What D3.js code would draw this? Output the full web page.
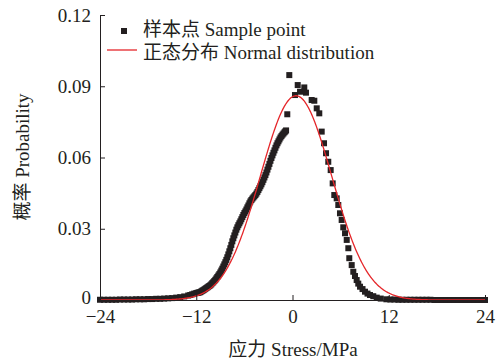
<!DOCTYPE html>
<html><head><meta charset="utf-8">
<script src="https://cdn.jsdelivr.net/npm/d3@7"></script>
<style>body{margin:0;background:#fff}svg{display:block}</style>
</head><body>
<script>
// ---- data ----
const xTicks = [-24, -12, 0, 12, 24];
const yTicks = [0, 0.03, 0.06, 0.09, 0.12];
const sampleX = [
 -24,-23.5,-23,-22.5,-22,-21.5,-21,-20.5,-20,-19.5,-19,-18.5,-18,-17.5,-17,-16.5,-16,-15.5,-15,-14.5,-14,-13.5,
 -13,-12.75,-12.5,-12.25,
 -12,-11.875,-11.75,-11.625,-11.5,-11.375,-11.25,-11.125,-11,-10.875,-10.75,-10.625,-10.5,-10.375,-10.25,-10.125,
 -10,-9.875,-9.75,-9.625,-9.5,-9.375,-9.25,-9.125,-9,-8.875,-8.75,-8.625,-8.5,-8.375,-8.25,-8.125,
 -8,-7.875,-7.75,-7.625,-7.5,-7.375,-7.25,-7.125,-7,-6.875,-6.75,-6.625,-6.5,-6.375,-6.25,-6.125,
 -6,-5.875,-5.75,-5.625,-5.5,-5.375,-5.25,-5.125,-5,-4.875,-4.75,-4.625,-4.5,-4.375,-4.25,-4.125,
 -4,-3.875,-3.75,-3.625,-3.5,-3.375,-3.25,-3.125,-3,-2.875,-2.75,-2.625,-2.5,-2.375,-2.25,-2.125,
 -2,-1.875,-1.75,-1.625,-1.5,-1.375,-1.25,-1.125,-1,-0.9,-0.8,
 -0.65,-0.4,0.31,0.65,0.94,1.47,1.68,2.39,2.72,3.02,3.34,3.64,3.93,4.18,
 4.46,4.76,5.01,5.21,5.51,5.71,5.92,6.13,6.33,6.55,6.76,6.96,7.08,7.38,7.58,7.79,8.0,8.2,8.42,8.73,9.04,9.35,9.66,
 10.07,10.5,11.0,11.7,12.2,12.7,13.2,13.7,14.2,14.7,15.2,15.7,16.2,16.7,17.2,17.7,18.2,18.7,19.2,19.7,20.2,20.7,
 21.2,21.7,22.2,22.7,23.2,23.7,24
];
const sampleY = [
 0.0001,0.0001,0.0001,0.0001,0.0001,0.0002,0.0002,0.0002,0.0002,0.0003,0.0003,0.0003,0.0004,0.0004,0.0005,0.0005,0.0006,0.0007,0.0008,0.0010,0.0012,0.0015,
 0.0019,0.0021,0.0024,0.0027,
 0.0029,0.0030,0.0031,0.0032,0.0033,0.0036,0.0039,0.0041,0.0044,0.0047,0.0050,0.0053,0.0056,0.0059,0.0062,0.0066,
 0.0071,0.0075,0.0080,0.0085,0.0091,0.0097,0.0103,0.0109,0.0116,0.0124,0.0132,0.0141,0.0150,0.0159,0.0169,0.0180,
 0.0192,0.0205,0.0218,0.0232,0.0247,0.0260,0.0272,0.0284,0.0296,0.0306,0.0315,0.0323,0.0331,0.0340,0.0349,0.0358,
 0.0366,0.0373,0.0381,0.0390,0.0398,0.0407,0.0415,0.0421,0.0427,0.0432,0.0437,0.0442,0.0448,0.0455,0.0463,0.0471,
 0.0479,0.0487,0.0496,0.0506,0.0516,0.0526,0.0537,0.0549,0.0561,0.0573,0.0586,0.0598,0.0609,0.0620,0.0630,0.0641,
 0.0651,0.0660,0.0668,0.0676,0.0684,0.0690,0.0696,0.0701,0.0706,0.0710,0.0714,
 0.0782,0.0947,0.0863,0.0905,0.0877,0.0895,0.0873,0.0842,0.0839,0.0807,0.0786,0.0709,0.0660,0.0618,
 0.0582,0.0547,0.0491,0.0442,0.0428,0.0400,0.0365,0.0337,0.0306,0.0281,0.0253,0.0218,0.0176,0.0147,0.0119,0.0101,0.0084,0.0069,0.0056,0.0046,0.0035,0.0027,0.0021,
 0.0016,0.0010,0.0006,0.0003,0.0002,0.0002,0.0001,0.0001,0.0001,0.0001,0.0001,0.0001,0.0001,0.0001,0.0001,0,0,0,0,0,0,0,
 0,0,0,0,0,0,0
];
// fitted normal distribution parameters
const normalMean = 0.44;
const normalSigma = 4.45;
const normalPeak = 0.086;
const legendLabels = ["样本点 Sample point", "正态分布 Normal distribution"];
const xLabel = "应力 Stress/MPa";
const yLabel = "概率 Probability";

// ---- chart ----
const W = 504, H = 360;
const ink = "#231f20", red = "#e5262a";
const font = "'Liberation Serif','Times New Roman','Noto Sans CJK SC',serif";
const svg = d3.select("body").append("svg").attr("width", W).attr("height", H)
  .style("font-family", font);

const x = d3.scaleLinear().domain([-24, 24]).range([100, 485]);
const y = d3.scaleLinear().domain([0, 0.12]).range([300, 15]);

// normal curve
const curveX = d3.range(-24, 24.001, 0.1);
const line = d3.line().x(d => x(d)).y(d => y(normalPeak * Math.exp(-0.5 * ((d - normalMean) / normalSigma) ** 2)));

// points
svg.append("g").selectAll("rect").data(sampleX.map((v, i) => [v, sampleY[i]])).join("rect")
  .attr("x", d => x(d[0]) - 3).attr("y", d => y(d[1]) - 3)
  .attr("width", 6).attr("height", 6).attr("fill", ink);

svg.append("path").datum(curveX).attr("d", line)
  .attr("fill", "none").attr("stroke", red).attr("stroke-width", 1.3);

// axes
const xAxis = svg.append("g").attr("transform", "translate(0,300)")
  .call(d3.axisBottom(x).tickValues(xTicks).tickSizeInner(-5).tickSizeOuter(0).tickPadding(10)
    .tickFormat(d => d < 0 ? "\u2212" + Math.abs(d) : String(d)));
const yAxis = svg.append("g").attr("transform", "translate(100,0)")
  .call(d3.axisLeft(y).tickValues(yTicks).tickSizeInner(-5).tickSizeOuter(0).tickPadding(9)
    .tickFormat(d => d === 0 ? "0" : d3.format(".2f")(d)));
[xAxis, yAxis].forEach(g => {
  g.selectAll("path,line").attr("stroke", ink).attr("stroke-width", 1);
  g.selectAll("text").attr("fill", ink).style("font-size", "19px").style("font-family", font);
});
yAxis.selectAll(".tick text").filter(d => d === 0).attr("dy", "0.2em");

// labels
svg.append("text").attr("x", 293).attr("y", 356).attr("text-anchor", "middle")
  .attr("fill", ink).style("font-size", "19px").text(xLabel);
svg.append("text").attr("transform", "translate(29,157) rotate(-90)").attr("text-anchor", "middle")
  .attr("fill", ink).style("font-size", "19px").text(yLabel);

// legend
svg.append("rect").attr("x", 121).attr("y", 28).attr("width", 6).attr("height", 6).attr("fill", ink);
svg.append("text").attr("x", 143).attr("y", 36).attr("fill", ink).style("font-size", "19px").text(legendLabels[0]);
svg.append("line").attr("x1", 107).attr("x2", 137).attr("y1", 50).attr("y2", 50)
  .attr("stroke", red).attr("stroke-width", 1.3);
svg.append("text").attr("x", 143).attr("y", 59).attr("fill", ink).style("font-size", "19px").text(legendLabels[1]);
</script>
</body></html>
